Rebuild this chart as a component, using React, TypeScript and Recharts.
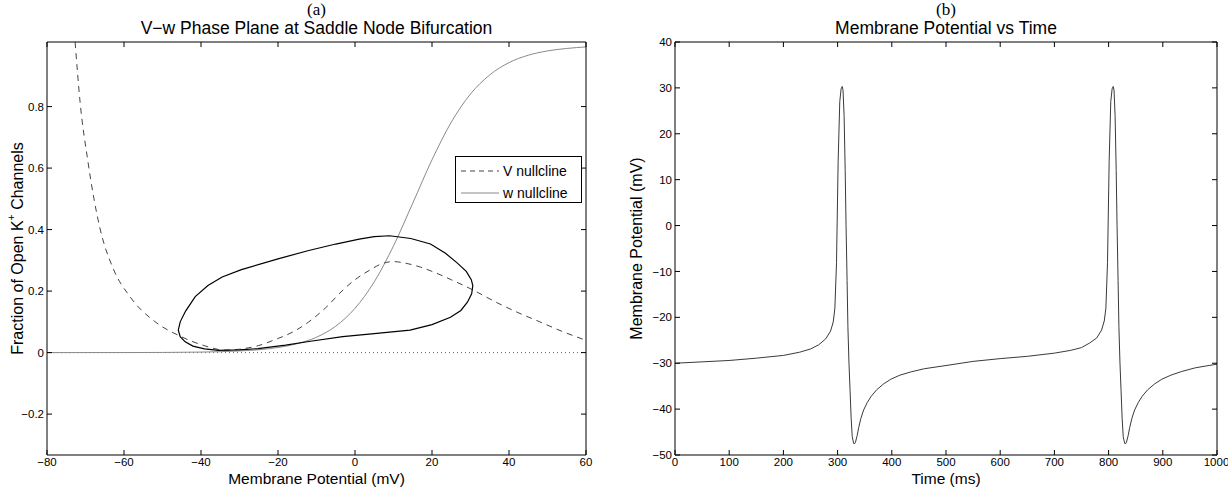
import { LineChart, Line, XAxis, YAxis, ReferenceLine, Label } from 'recharts';

// phase plane (V in mV, w = fraction of open K+ channels)
const vNullcline: [number, number][] = [
  [-72.7, 1.01], [-71.4, 0.814], [-69.4, 0.624], [-67.8, 0.5], [-66.2, 0.402], [-62.9, 0.276],
  [-58.4, 0.181], [-52, 0.101], [-45.5, 0.054], [-39, 0.022], [-33.8, 0.008], [-30, 0.011],
  [-25, 0.023], [-20.8, 0.042], [-16, 0.068], [-12, 0.1], [-7.6, 0.146], [-3, 0.205], [0, 0.237],
  [3.8, 0.268], [7, 0.289], [9.9, 0.296], [13, 0.291], [17, 0.278], [21, 0.259], [25, 0.237],
  [30.1, 0.207], [37.1, 0.161], [42, 0.132], [48, 0.1], [54, 0.068], [60, 0.04],
];

const wNullcline: [number, number][] = [
  [-80, 0], [-60, 0.0002], [-50, 0.0005], [-40, 0.0017], [-35, 0.003], [-30, 0.0054],
  [-25, 0.0094], [-20, 0.0166], [-15, 0.029], [-10, 0.05], [-5, 0.086], [0, 0.144], [5, 0.23],
  [10, 0.347], [15, 0.486], [20, 0.627], [25, 0.749], [30, 0.841], [35, 0.903], [40, 0.943],
  [45, 0.967], [50, 0.981], [55, 0.989], [60, 0.994],
];

const limitCycle: [number, number][] = [
  [-35.5, 0.007], [-30, 0.009], [-25.2, 0.013], [-18, 0.024], [-12, 0.036], [-3.2, 0.052],
  [5, 0.062], [14.3, 0.073], [20, 0.091], [24.8, 0.115], [27.5, 0.137], [29.2, 0.164],
  [30.3, 0.191], [30.6, 0.218], [30.2, 0.237], [28.9, 0.264], [26.6, 0.291], [23.5, 0.323],
  [19.6, 0.353], [14.5, 0.371], [9, 0.38], [5, 0.377], [1.1, 0.369], [-5, 0.353], [-12, 0.332],
  [-20, 0.305], [-29.5, 0.27], [-34.5, 0.246], [-38.2, 0.218], [-41.5, 0.182], [-44, 0.135],
  [-45.4, 0.1], [-45.9, 0.073], [-45.4, 0.052], [-44.1, 0.035], [-42.1, 0.021], [-39.1, 0.012],
  [-35.5, 0.007],
];

const phaseXTicks = [-80, -60, -40, -20, 0, 20, 40, 60];
const phaseYTicks = [-0.2, 0, 0.2, 0.4, 0.6, 0.8];

// membrane potential trace (t in ms, V in mV)
const timeMs = [
  0, 50, 100, 150, 200, 230, 250, 265, 278, 287, 292, 295, 298, 301, 304, 306.5, 308.5, 310, 312,
  314, 315.6, 317.5, 319, 321, 323, 325, 327, 329.5, 331, 333, 336, 339, 343, 348, 355, 362, 372,
  385, 398, 415, 435, 460, 500,
  550, 600, 650, 700, 730, 750, 765, 778, 787, 792, 795, 798, 801, 804, 806.5, 808.5, 810, 812,
  814, 815.6, 817.5, 819, 821, 823, 825, 827, 829.5, 831, 833, 836, 839, 843, 848, 855, 862, 872,
  885, 898, 915, 935, 960, 1000,
];
const potentialMv = [
  -30, -29.7, -29.4, -28.9, -28.3, -27.6, -26.9, -26, -24.7, -23, -21, -18, -8, 14, 27, 29.8, 30.3,
  29.5, 24, 12, 0, -12, -22, -30, -36, -42, -46, -47.4, -47.6, -47.2, -45.8, -44, -42, -40.2, -38.5,
  -37.2, -35.8, -34.5, -33.5, -32.6, -31.9, -31.2, -30.5,
  -29.6, -29, -28.5, -27.8, -27.2, -26.6, -25.6, -24.5, -22.8, -20.8, -18, -8, 14, 27, 29.8, 30.3,
  29.5, 24, 12, 0, -12, -22, -30, -36, -42, -46, -47.4, -47.6, -47.2, -45.8, -44, -42, -40.2, -38.5,
  -37.2, -35.8, -34.5, -33.5, -32.6, -31.8, -31, -30.2,
];
const timeTicks = [0, 100, 200, 300, 400, 500, 600, 700, 800, 900, 1000];
const mvTicks = [-50, -40, -30, -20, -10, 0, 10, 20, 30, 40];

const FONT = '"Liberation Sans", Arial, Helvetica, sans-serif';
const toPts = (arr: [number, number][]) => arr.map(([v, w]) => ({ v, w }));
const minus = (n: number) => String(n).replace('-', '\u2212');
const blank = () => '';
const tickStyle = { fontSize: 11.5, fill: '#000', fontFamily: FONT };
const frame = { stroke: '#000' };
const xLabelStyle = { fontSize: 15.5, fontFamily: FONT, fill: '#000' };

const ylabelPhase = (props: any) => {
  const vb = props.viewBox;
  const cx = 17;
  const cy = vb.y + vb.height / 2;
  return (
    <text x={cx} y={cy} transform={`rotate(-90 ${cx} ${cy})`} textAnchor="middle" dominantBaseline="central" fontSize={16} fontFamily={FONT} fill="#000">
      Fraction of Open K<tspan dy={-6} fontSize={10.5}>+</tspan><tspan dy={6}> Channels</tspan>
    </text>
  );
};

const ylabelTrace = (props: any) => {
  const vb = props.viewBox;
  const cx = 22;
  const cy = vb.y + vb.height / 2;
  return (
    <text x={cx} y={cy} transform={`rotate(-90 ${cx} ${cy})`} textAnchor="middle" dominantBaseline="central" fontSize={16} fontFamily={FONT} fill="#000">
      Membrane Potential (mV)
    </text>
  );
};

function Heading({ cx, tag, title }: { cx: number; tag: string; title: string }) {
  return (
    <>
      <div style={{ position: 'absolute', left: cx - 100, width: 200, top: 1, textAlign: 'center', fontFamily: '"Liberation Serif", "DejaVu Serif", serif', fontSize: 17, lineHeight: '18px' }}>{tag}</div>
      <div style={{ position: 'absolute', left: cx - 250, width: 500, top: 19, textAlign: 'center', fontFamily: FONT, fontSize: 17.5, lineHeight: '18px' }}>{title}</div>
    </>
  );
}

function PhasePlane() {
  return (
    <LineChart width={614} height={487} margin={{ top: 41, right: 27, bottom: 0, left: 2 }}>
      <XAxis xAxisId="b" type="number" dataKey="v" domain={[-80, 60]} ticks={phaseXTicks} allowDataOverflow
        tickFormatter={minus} tickSize={-5} tickMargin={8} tick={tickStyle} height={32} axisLine={frame} tickLine={frame}>
        <Label value="Membrane Potential (mV)" position="insideBottom" offset={3.5} style={xLabelStyle} />
      </XAxis>
      <XAxis xAxisId="t" orientation="top" type="number" dataKey="v" domain={[-80, 60]} ticks={phaseXTicks} allowDataOverflow
        tickFormatter={blank} tickSize={-5} height={1} axisLine={frame} tickLine={frame} />
      <YAxis yAxisId="l" type="number" dataKey="w" domain={[-0.333, 1.01]} ticks={phaseYTicks} allowDataOverflow
        tickFormatter={minus} tickSize={-5} tickMargin={8} tick={tickStyle} width={45} axisLine={frame} tickLine={frame}>
        <Label content={ylabelPhase} />
      </YAxis>
      <YAxis yAxisId="r" orientation="right" type="number" dataKey="w" domain={[-0.333, 1.01]} ticks={phaseYTicks} allowDataOverflow
        tickFormatter={blank} tickSize={-5} width={1} axisLine={frame} tickLine={frame} />
      <ReferenceLine xAxisId="t" yAxisId="r" y={0} stroke="#666" strokeDasharray="1 3" />
      <Line xAxisId="b" yAxisId="l" data={toPts(wNullcline)} dataKey="w" type="monotone" stroke="#8a8a8a" strokeWidth={1} dot={false} isAnimationActive={false} />
      <Line xAxisId="b" yAxisId="l" data={toPts(vNullcline)} dataKey="w" type="monotone" stroke="#444" strokeWidth={1} strokeDasharray="6 5" dot={false} isAnimationActive={false} />
      <Line xAxisId="b" yAxisId="l" data={toPts(limitCycle)} dataKey="w" type="linear" stroke="#000" strokeWidth={1.2} dot={false} isAnimationActive={false} />
    </LineChart>
  );
}

function TraceChart() {
  const data = timeMs.map((t, i) => ({ t, mv: potentialMv[i] }));
  return (
    <LineChart width={614} height={487} data={data} margin={{ top: 41, right: 10, bottom: 0, left: 16 }}>
      <XAxis xAxisId="b" type="number" dataKey="t" domain={[0, 1000]} ticks={timeTicks} allowDataOverflow
        tickSize={-5} tickMargin={8} tick={tickStyle} height={32} axisLine={frame} tickLine={frame}>
        <Label value="Time (ms)" position="insideBottom" offset={3.5} style={xLabelStyle} />
      </XAxis>
      <XAxis xAxisId="t" orientation="top" type="number" dataKey="t" domain={[0, 1000]} ticks={timeTicks} allowDataOverflow
        tickFormatter={blank} tickSize={-5} height={1} axisLine={frame} tickLine={frame} />
      <YAxis yAxisId="l" type="number" dataKey="mv" domain={[-50, 40]} ticks={mvTicks} allowDataOverflow
        tickFormatter={minus} tickSize={-5} tickMargin={8} tick={tickStyle} width={45} axisLine={frame} tickLine={frame}>
        <Label content={ylabelTrace} />
      </YAxis>
      <YAxis yAxisId="r" orientation="right" type="number" dataKey="mv" domain={[-50, 40]} ticks={mvTicks} allowDataOverflow
        tickFormatter={blank} tickSize={-5} width={1} axisLine={frame} tickLine={frame} />
      <Line xAxisId="b" yAxisId="l" dataKey="mv" type="linear" stroke="#3a3a3a" strokeWidth={1} dot={false} isAnimationActive={false} />
    </LineChart>
  );
}

const legendItems = [
  { name: 'V nullcline', dash: '5 4', color: '#444' },
  { name: 'w nullcline', dash: undefined, color: '#8a8a8a' },
];

export default function App() {
  return (
    <div style={{ position: 'absolute', left: 0, top: 0, width: 1228, height: 487, background: '#fff', overflow: 'hidden' }}>
      <Heading cx={316.5} tag="(a)" title="V−w Phase Plane at Saddle Node Bifurcation" />
      <Heading cx={946} tag="(b)" title="Membrane Potential vs Time" />
      <div style={{ position: 'absolute', left: 0, top: 0 }}>
        <PhasePlane />
      </div>
      <div style={{ position: 'absolute', left: 614, top: 0 }}>
        <TraceChart />
      </div>
      <div style={{ position: 'absolute', left: 455, top: 156, width: 127, height: 47, boxSizing: 'border-box', border: '1px solid #000', background: '#fff', fontFamily: FONT, fontSize: 14 }}>
        {legendItems.map((it, i) => (
          <div key={it.name} style={{ position: 'absolute', left: 5, top: 6 + i * 22, height: 16, display: 'flex', alignItems: 'center' }}>
            <svg width={38} height={10}><line x1={0} y1={5} x2={38} y2={5} stroke={it.color} strokeDasharray={it.dash} /></svg>
            <span style={{ marginLeft: 4 }}>{it.name}</span>
          </div>
        ))}
      </div>
    </div>
  );
}
